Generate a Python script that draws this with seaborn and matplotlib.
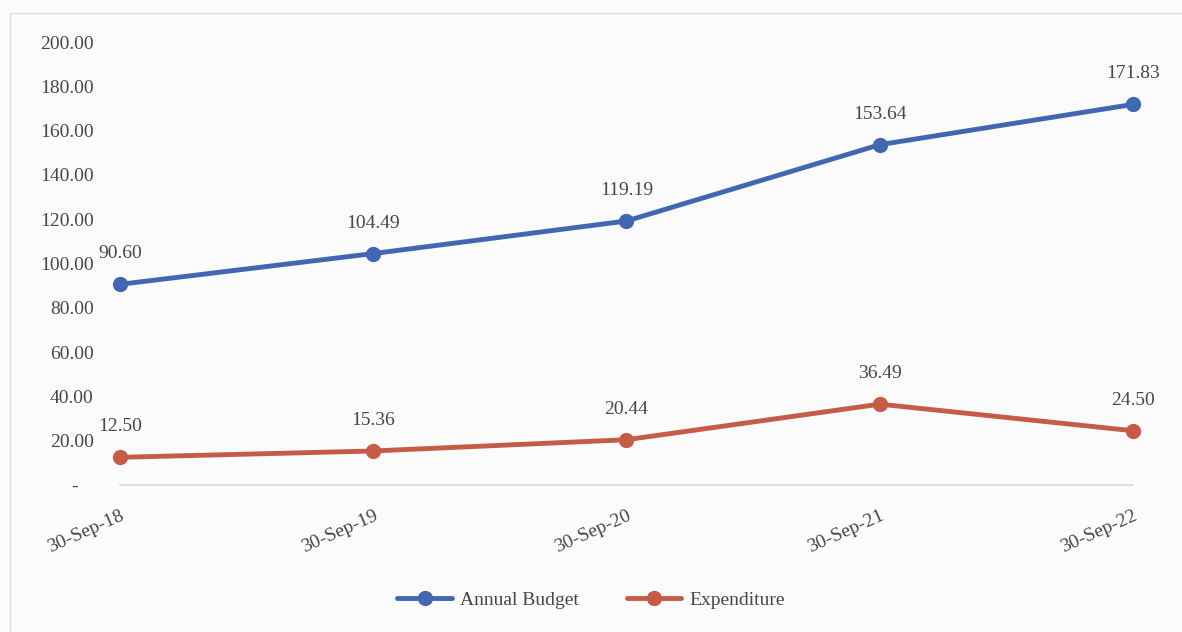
import pandas as pd
import seaborn as sns
import matplotlib.pyplot as plt
from matplotlib.patches import Rectangle

# values
dates = ["30-Sep-18", "30-Sep-19", "30-Sep-20", "30-Sep-21", "30-Sep-22"]
annual_budget = [90.60, 104.49, 119.19, 153.64, 171.83]
expenditure = [12.50, 15.36, 20.44, 36.49, 24.50]
y_ticks = [0, 20, 40, 60, 80, 100, 120, 140, 160, 180, 200]

df = pd.DataFrame({
    "pos": list(range(len(dates))) * 2,
    "value": annual_budget + expenditure,
    "series": ["Annual Budget"] * len(dates) + ["Expenditure"] * len(dates),
})

sns.set_theme(style="white")
plt.rcParams["font.family"] = ["Liberation Serif", "DejaVu Serif"]
text_color = "#474747"

fig = plt.figure(figsize=(11.82, 6.32), dpi=100)
fig.patch.set_facecolor("#FBFBFB")
# axis runs from the first to the last category (Excel "on tick marks")
ax = fig.add_axes([0.1015, 0.2326, 0.857, 0.7009])
ax.set_facecolor("#FBFBFB")

palette = {"Annual Budget": "#4267B2", "Expenditure": "#C65B47"}
sns.lineplot(data=df, x="pos", y="value", hue="series", palette=palette,
             marker="o", markersize=11, markeredgewidth=0, linewidth=3.5,
             clip_on=False, ax=ax)

for name, vals in [("Annual Budget", annual_budget), ("Expenditure", expenditure)]:
    for i, v in enumerate(vals):
        ax.annotate(f"{v:.2f}", (i, v), xytext=(0, 22), textcoords="offset points",
                    ha="center", va="center", fontsize=14, color=text_color)

ax.set_xlim(0, 4)
ax.set_ylim(0, 200)
ax.set_yticks(y_ticks)
ax.set_yticklabels(["-   "] + [f"{t:.2f}" for t in y_ticks[1:]], fontsize=14, color=text_color)
ax.set_xticks(range(len(dates)))
ax.set_xticklabels(dates, fontsize=14, color=text_color, rotation=24,
                   ha="right", rotation_mode="anchor")
ax.tick_params(axis="y", length=0, pad=19)
ax.tick_params(axis="x", length=0, pad=16)
ax.set_xlabel("")
ax.set_ylabel("")

for s in ["top", "right", "left"]:
    ax.spines[s].set_visible(False)
ax.spines["bottom"].set_color("#D9D9D9")
ax.spines["bottom"].set_linewidth(1.2)

handles, labels = ax.get_legend_handles_labels()
ax.legend_.remove()
fig.legend(handles, labels, loc="center", bbox_to_anchor=(0.5, 0.051), ncol=2,
           frameon=False, fontsize=14, handlelength=2.8, handletextpad=0.4,
           columnspacing=2.5, labelcolor=text_color)

fig.add_artist(Rectangle((0.0085, -0.01), 1.0, 0.99, transform=fig.transFigure,
                         fill=False, edgecolor="#DDDDDD", linewidth=1))

fig.savefig("out.png", dpi=100, facecolor=fig.get_facecolor())
